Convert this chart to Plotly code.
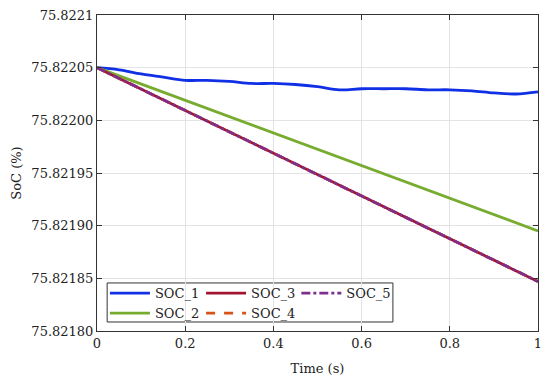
import plotly.graph_objects as go

time_s = [0.0, 0.05, 0.1, 0.15, 0.2, 0.25, 0.3, 0.35, 0.4, 0.45, 0.5, 0.55, 0.6, 0.65, 0.7, 0.75, 0.8, 0.85, 0.9, 0.95, 1.0]
soc_1 = [75.822050, 75.822048, 75.822044, 75.822041, 75.822038, 75.822038, 75.822037, 75.822035, 75.822035, 75.822034,
         75.822032, 75.822029, 75.822030, 75.822030, 75.822030, 75.822029, 75.822029, 75.822028, 75.822026, 75.822025, 75.822027]
lin_t = [0.0, 0.25, 0.5, 0.75, 1.0]
soc_2 = [75.822050, 75.8220113, 75.8219725, 75.8219338, 75.821895]
soc_3 = [75.822050, 75.8219992, 75.8219485, 75.8218977, 75.821847]
soc_4 = [75.822050, 75.8219992, 75.8219485, 75.8218977, 75.821847]
soc_5 = [75.822050, 75.8219992, 75.8219485, 75.8218977, 75.821847]

y_ticks = [75.8218, 75.82185, 75.8219, 75.82195, 75.822, 75.82205, 75.8221]
y_labels = ["75.82180", "75.82185", "75.82190", "75.82195", "75.82200", "75.82205", "75.8221"]
x_ticks = [0, 0.2, 0.4, 0.6, 0.8, 1]
x_labels = ["0", "0.2", "0.4", "0.6", "0.8", "1"]

FONT = "DejaVu Serif"
fig = go.Figure()
fig.add_trace(go.Scatter(x=time_s, y=soc_1, mode="lines", name="SOC_1", line=dict(color="#1030e6", width=2.8, shape="spline"), legend="legend"))
fig.add_trace(go.Scatter(x=lin_t, y=soc_2, mode="lines", name="SOC_2", line=dict(color="#77ac30", width=2.8), legend="legend"))
fig.add_trace(go.Scatter(x=lin_t, y=soc_3, mode="lines", name="SOC_3", line=dict(color="#a2142f", width=2.8), legend="legend2"))
fig.add_trace(go.Scatter(x=lin_t, y=soc_4, mode="lines", name="SOC_4", line=dict(color="#d95319", width=2.8, dash="dash"), legend="legend2"))
fig.add_trace(go.Scatter(x=lin_t, y=soc_5, mode="lines", name="SOC_5", line=dict(color="#7e2f8e", width=2.8, dash="dashdot"), legend="legend3"))

leg_common = dict(bgcolor="rgba(0,0,0,0)", borderwidth=0, font=dict(family=FONT, size=13, color="#222"),
                  yanchor="top", xanchor="left", tracegroupgap=0, itemwidth=40)
fig.update_layout(
    width=550, height=386,
    margin=dict(l=97, r=12, t=15, b=55, autoexpand=False),
    paper_bgcolor="white", plot_bgcolor="white",
    font=dict(family=FONT, size=13, color="#222"),
    legend=dict(x=0.018, y=0.167, **leg_common),
    legend2=dict(x=0.236, y=0.167, **leg_common),
    legend3=dict(x=0.452, y=0.167, **leg_common),
    xaxis=dict(range=[0, 1], tickvals=x_ticks, ticktext=x_labels, showgrid=True, gridcolor="#e3e3e3",
               ticks="inside", ticklen=5, tickcolor="#333", showline=True, linecolor="#333", linewidth=1, mirror="ticks",
               zeroline=False, automargin=False,
               title=dict(text="Time (s)", font=dict(family=FONT, size=13), standoff=14),
               tickfont=dict(family=FONT, size=13)),
    yaxis=dict(range=[75.8218, 75.8221], tickvals=y_ticks, ticktext=y_labels, showgrid=True, gridcolor="#e3e3e3",
               ticks="inside", ticklen=5, tickcolor="#333", showline=True, linecolor="#333", linewidth=1, mirror="ticks",
               zeroline=False, automargin=False,
               title=dict(text="SoC (%)", font=dict(family=FONT, size=13), standoff=6),
               tickfont=dict(family=FONT, size=13)),
    shapes=[dict(type="rect", xref="paper", yref="paper", x0=0.023, x1=0.671, y0=0.0285, y1=0.152,
                 line=dict(color="#333", width=1), fillcolor="white", layer="below")],
)
fig.write_html("out.html", config={"displayModeBar": False},
               post_script="document.body.style.margin='0';document.body.style.padding='0';")
